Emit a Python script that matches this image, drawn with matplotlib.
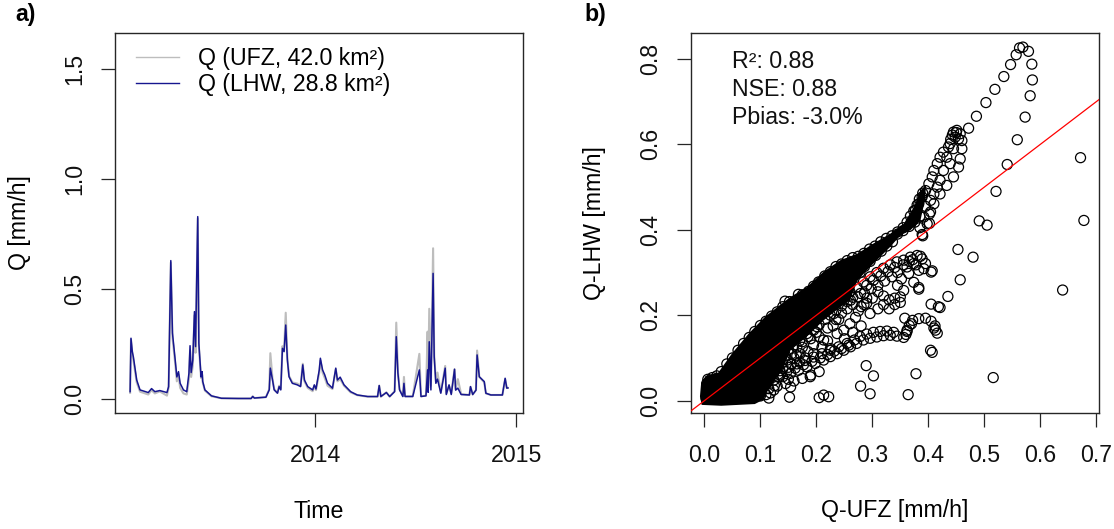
import matplotlib
matplotlib.use("Agg")
import matplotlib.pyplot as plt
import numpy as np
import pandas as pd

plt.rcParams["font.family"] = ["Liberation Sans", "DejaVu Sans"]

# ---------------- time series (panel a) ----------------
dates = [
    "2013-01-29", "2013-01-30T14:00", "2013-02-02", "2013-02-04", "2013-02-10", "2013-02-16",
    "2013-03-03", "2013-03-09", "2013-03-15", "2013-03-24", "2013-04-06", "2013-04-09",
    "2013-04-13", "2013-04-16", "2013-04-21", "2013-04-24", "2013-04-27", "2013-04-30",
    "2013-05-06", "2013-05-12", "2013-05-16", "2013-05-18", "2013-05-20", "2013-05-23",
    "2013-05-26", "2013-05-28", "2013-06-01", "2013-06-03", "2013-06-07", "2013-06-09",
    "2013-06-10", "2013-06-14", "2013-06-26", "2013-07-14", "2013-08-14", "2013-09-06",
    "2013-09-09", "2013-09-12", "2013-10-03", "2013-10-09", "2013-10-11", "2013-10-15",
    "2013-10-18", "2013-10-24", "2013-10-27", "2013-10-30", "2013-11-02", "2013-11-05",
    "2013-11-08", "2013-11-11", "2013-11-14", "2013-11-20", "2013-11-29", "2013-12-05",
    "2013-12-09", "2013-12-12", "2013-12-18", "2013-12-27", "2013-12-30", "2014-01-02",
    "2014-01-08", "2014-01-10", "2014-01-14", "2014-01-18", "2014-01-23", "2014-02-01",
    "2014-02-07", "2014-02-10", "2014-02-15", "2014-02-22", "2014-03-06", "2014-03-18",
    "2014-04-06", "2014-04-24", "2014-04-27", "2014-04-30", "2014-05-10", "2014-05-16",
    "2014-05-25", "2014-05-28", "2014-05-31", "2014-06-03", "2014-06-09", "2014-06-11",
    "2014-06-13", "2014-06-27", "2014-07-09", "2014-07-12", "2014-07-21", "2014-07-24",
    "2014-07-25", "2014-07-27", "2014-07-30", "2014-08-03", "2014-08-05", "2014-08-08",
    "2014-08-11", "2014-08-17", "2014-08-25", "2014-08-27", "2014-09-01", "2014-09-05",
    "2014-09-11", "2014-09-13", "2014-09-17", "2014-09-23", "2014-10-08", "2014-10-10",
    "2014-10-14", "2014-10-20", "2014-10-22", "2014-10-26", "2014-11-04", "2014-11-07",
    "2014-11-16", "2014-12-07", "2014-12-12", "2014-12-15", "2014-12-17",
]
q_lhw = [
    0.033, 0.276, 0.215, 0.190, 0.086, 0.041, 0.029, 0.047, 0.033, 0.038, 0.029, 0.056,
    0.629, 0.300, 0.177, 0.100, 0.124, 0.071, 0.041, 0.033, 0.117, 0.242, 0.120, 0.177,
    0.397, 0.238, 0.829, 0.253, 0.100, 0.124, 0.080, 0.041, 0.014, 0.003, 0.002, 0.002,
    0.011, 0.004, 0.008, 0.041, 0.140, 0.086, 0.041, 0.026, 0.056, 0.041, 0.230, 0.215,
    0.336, 0.177, 0.101, 0.071, 0.064, 0.056, 0.155, 0.086, 0.056, 0.041, 0.064, 0.045,
    0.132, 0.185, 0.132, 0.109, 0.071, 0.049, 0.140, 0.086, 0.099, 0.064, 0.033, 0.018,
    0.011, 0.011, 0.061, 0.011, 0.029, 0.011, 0.033, 0.283, 0.117, 0.041, 0.011, 0.071,
    0.011, 0.011, 0.132, 0.011, 0.014, 0.132, 0.030, 0.260, 0.041, 0.571, 0.192, 0.071,
    0.090, 0.026, 0.140, 0.020, 0.064, 0.020, 0.135, 0.040, 0.049, 0.020, 0.018, 0.056,
    0.020, 0.040, 0.200, 0.101, 0.079, 0.026, 0.018, 0.018, 0.094, 0.049, 0.050,
]
q_ufz = [
    0.028, 0.270, 0.205, 0.175, 0.075, 0.033, 0.020, 0.040, 0.025, 0.034, 0.015, 0.050,
    0.620, 0.280, 0.160, 0.080, 0.110, 0.050, 0.025, 0.020, 0.090, 0.220, 0.100, 0.150,
    0.380, 0.210, 0.820, 0.240, 0.095, 0.110, 0.075, 0.038, 0.012, 0.003, 0.002, 0.002,
    0.012, 0.004, 0.008, 0.045, 0.208, 0.090, 0.045, 0.028, 0.060, 0.045, 0.240, 0.220,
    0.392, 0.185, 0.105, 0.075, 0.070, 0.060, 0.160, 0.080, 0.050, 0.035, 0.060, 0.040,
    0.120, 0.175, 0.120, 0.095, 0.060, 0.045, 0.135, 0.080, 0.090, 0.060, 0.030, 0.017,
    0.010, 0.010, 0.060, 0.010, 0.030, 0.010, 0.035, 0.347, 0.125, 0.045, 0.012, 0.100,
    0.012, 0.012, 0.205, 0.012, 0.015, 0.306, 0.050, 0.410, 0.060, 0.685, 0.200, 0.080,
    0.120, 0.030, 0.150, 0.025, 0.060, 0.025, 0.135, 0.045, 0.090, 0.022, 0.018, 0.055,
    0.020, 0.040, 0.220, 0.100, 0.075, 0.025, 0.018, 0.018, 0.090, 0.050, 0.050,
]
legend_labels = ["Q (UFZ, 42.0 km²)", "Q (LHW, 28.8 km²)"]
year_ticks = ["2014-01-01", "2015-01-01"]
year_labels = ["2014", "2015"]
q_ticks = [0.0, 0.5, 1.0, 1.5]

# ---------------- scatter (panel b): Q-UFZ vs Q-LHW ----------------
# outline of the fully overplotted cloud near the origin
dense_x = [-0.008, -0.006, 0.002, 0.025, 0.049, 0.079, 0.108, 0.138, 0.154, 0.183, 0.213,
           0.243, 0.273, 0.302, 0.332, 0.356, 0.374, 0.386, 0.396, 0.394, 0.386, 0.368,
           0.350, 0.332, 0.308, 0.290, 0.273, 0.260, 0.243, 0.213, 0.183, 0.154, 0.138,
           0.114, 0.105, 0.090, 0.030, -0.005]
dense_y = [0.010, 0.040, 0.058, 0.066, 0.110, 0.157, 0.196, 0.227, 0.243, 0.266, 0.302,
           0.329, 0.344, 0.368, 0.391, 0.414, 0.453, 0.492, 0.505, 0.470, 0.422, 0.399,
           0.387, 0.360, 0.329, 0.305, 0.280, 0.235, 0.219, 0.188, 0.150, 0.118, 0.070,
           0.025, 0.002, -0.008, -0.012, -0.010]

edge_x = [0.004, 0.006, 0.014, 0.022, 0.030, 0.040, 0.050, 0.060, 0.070, 0.080, 0.090,
          0.100, 0.110, 0.120, 0.130, 0.140, 0.144, 0.152, 0.168, 0.175, 0.186, 0.195,
          0.204, 0.215, 0.225, 0.235, 0.245, 0.255, 0.265, 0.275, 0.285, 0.295, 0.305,
          0.315, 0.325, 0.335, 0.345, 0.355, 0.362, 0.368, 0.374, 0.380, 0.384, 0.390,
          0.385, 0.376, 0.366, 0.355, 0.345, 0.336, 0.326, 0.316, 0.306, 0.296, 0.286,
          0.278, 0.003, 0.010, 0.020, 0.030, 0.040, 0.050, 0.060, 0.070, 0.080, 0.090,
          0.100, 0.110, 0.118, 0.125, 0.132, 0.140, 0.148, 0.156, 0.165, 0.175, 0.185,
          0.195, 0.205, 0.215, 0.225, 0.235, 0.245, 0.255, 0.265]
edge_y = [0.040, 0.050, 0.054, 0.058, 0.068, 0.086, 0.100, 0.118, 0.134, 0.148, 0.162,
          0.176, 0.186, 0.198, 0.208, 0.220, 0.233, 0.232, 0.249, 0.248, 0.256, 0.268,
          0.278, 0.292, 0.302, 0.314, 0.320, 0.328, 0.335, 0.338, 0.345, 0.355, 0.362,
          0.372, 0.380, 0.386, 0.395, 0.405, 0.418, 0.432, 0.444, 0.458, 0.472, 0.486,
          0.432, 0.418, 0.408, 0.398, 0.390, 0.372, 0.362, 0.350, 0.340, 0.326, 0.314,
          0.300, 0.006, 0.004, 0.004, 0.004, 0.005, 0.006, 0.006, 0.007, 0.008, 0.009,
          0.011, 0.014, 0.018, 0.035, 0.055, 0.075, 0.095, 0.110, 0.125, 0.138, 0.150,
          0.165, 0.178, 0.190, 0.200, 0.212, 0.222, 0.232, 0.242]

upper_tail_x = [0.377, 0.383, 0.389, 0.395, 0.401, 0.407, 0.410, 0.416, 0.421, 0.427, 0.436,
                0.439, 0.445, 0.451, 0.457, 0.448, 0.454, 0.460, 0.445, 0.460, 0.457, 0.454,
                0.445, 0.433, 0.439, 0.427, 0.421, 0.416, 0.410, 0.404, 0.433, 0.421, 0.410,
                0.404, 0.398, 0.389, 0.395, 0.392, 0.385, 0.440, 0.443, 0.450]
upper_tail_y = [0.446, 0.461, 0.477, 0.492, 0.508, 0.524, 0.539, 0.555, 0.570, 0.582, 0.594,
                0.602, 0.629, 0.633, 0.625, 0.617, 0.613, 0.609, 0.590, 0.590, 0.566, 0.547,
                0.524, 0.570, 0.555, 0.539, 0.516, 0.500, 0.484, 0.469, 0.504, 0.484, 0.461,
                0.442, 0.414, 0.389, 0.455, 0.430, 0.405, 0.612, 0.622, 0.628]

peak_loop_x = [0.472, 0.486, 0.503, 0.519, 0.535, 0.547, 0.557, 0.563, 0.569, 0.579, 0.585,
               0.586, 0.582, 0.573, 0.559, 0.541, 0.521, 0.491, 0.505]
peak_loop_y = [0.638, 0.666, 0.698, 0.729, 0.759, 0.787, 0.810, 0.826, 0.828, 0.818, 0.788,
               0.751, 0.714, 0.664, 0.611, 0.553, 0.490, 0.421, 0.411]

middle_band_x = [0.356, 0.368, 0.380, 0.389, 0.395, 0.392, 0.383, 0.374, 0.362, 0.374, 0.383,
                 0.356, 0.350, 0.407, 0.344, 0.332, 0.320, 0.308, 0.296, 0.284, 0.272, 0.260,
                 0.345, 0.335, 0.322, 0.310, 0.298, 0.286, 0.274, 0.340, 0.330, 0.320, 0.310,
                 0.345, 0.352, 0.365, 0.300, 0.290, 0.280, 0.372, 0.386, 0.378, 0.366, 0.355,
                 0.340, 0.328, 0.315, 0.302, 0.290]
middle_band_y = [0.329, 0.336, 0.340, 0.332, 0.321, 0.309, 0.305, 0.321, 0.313, 0.277, 0.265,
                 0.258, 0.243, 0.304, 0.325, 0.318, 0.310, 0.300, 0.290, 0.278, 0.266, 0.255,
                 0.300, 0.290, 0.280, 0.270, 0.262, 0.252, 0.243, 0.240, 0.236, 0.245, 0.255,
                 0.270, 0.285, 0.298, 0.240, 0.228, 0.220, 0.330, 0.338, 0.318, 0.326, 0.318,
                 0.312, 0.302, 0.292, 0.282, 0.270]

lower_band_x = [0.064, 0.080, 0.094, 0.110, 0.124, 0.140, 0.154, 0.168, 0.183, 0.198, 0.213,
                0.225, 0.237, 0.249, 0.261, 0.272, 0.284, 0.296, 0.308, 0.320, 0.332, 0.344,
                0.356, 0.362, 0.366, 0.372, 0.383, 0.395, 0.405, 0.412, 0.413, 0.416, 0.410,
                0.090, 0.105, 0.120, 0.135, 0.150, 0.165, 0.180, 0.195, 0.210, 0.225, 0.240,
                0.255, 0.268, 0.100, 0.115, 0.130, 0.145, 0.160, 0.175, 0.190, 0.205,
                0.072, 0.087, 0.102, 0.117, 0.132, 0.147, 0.162, 0.177, 0.192, 0.207, 0.220,
                0.232, 0.245, 0.258, 0.278, 0.290, 0.302, 0.314, 0.326, 0.338]
lower_band_y = [0.017, 0.025, 0.032, 0.040, 0.048, 0.056, 0.064, 0.071, 0.079, 0.087, 0.095,
                0.103, 0.110, 0.118, 0.126, 0.134, 0.142, 0.146, 0.149, 0.152, 0.153, 0.151,
                0.148, 0.162, 0.176, 0.188, 0.192, 0.193, 0.186, 0.175, 0.165, 0.158, 0.170,
                0.045, 0.053, 0.062, 0.070, 0.078, 0.086, 0.094, 0.102, 0.110, 0.118, 0.126,
                0.134, 0.142, 0.022, 0.028, 0.034, 0.040, 0.046, 0.052, 0.060, 0.068,
                0.030, 0.038, 0.046, 0.054, 0.062, 0.068, 0.076, 0.084, 0.092, 0.100, 0.108,
                0.116, 0.122, 0.130, 0.150, 0.156, 0.160, 0.162, 0.163, 0.160]

spread_x = [0.249, 0.296, 0.225, 0.237, 0.213, 0.183, 0.171, 0.201, 0.231, 0.261, 0.279,
            0.130, 0.112, 0.082, 0.189, 0.154, 0.124, 0.094, 0.064, 0.036, 0.260, 0.270,
            0.220, 0.195, 0.205, 0.240, 0.185, 0.160, 0.120, 0.130, 0.140, 0.150, 0.160,
            0.170, 0.175, 0.190, 0.200, 0.210, 0.220, 0.230, 0.235, 0.245, 0.255, 0.265,
            0.275, 0.285, 0.290, 0.250, 0.265, 0.280, 0.310, 0.320, 0.330, 0.340, 0.350,
            0.145, 0.165, 0.180, 0.195, 0.155, 0.170, 0.135, 0.150]
spread_y = [0.165, 0.204, 0.122, 0.157, 0.142, 0.157, 0.110, 0.173, 0.204, 0.235, 0.251,
            0.095, 0.079, 0.064, 0.056, 0.032, 0.025, 0.013, 0.009, 0.005, 0.180, 0.195,
            0.170, 0.130, 0.150, 0.190, 0.115, 0.100, 0.080, 0.100, 0.090, 0.120, 0.130,
            0.140, 0.125, 0.145, 0.160, 0.125, 0.140, 0.175, 0.190, 0.205, 0.215, 0.225,
            0.210, 0.225, 0.240, 0.145, 0.160, 0.175, 0.215, 0.225, 0.215, 0.225, 0.230,
            0.105, 0.105, 0.100, 0.110, 0.085, 0.090, 0.060, 0.050]

outlier_x = [0.678, 0.672, 0.640, 0.516, 0.453, 0.480, 0.457, 0.435, 0.421, 0.407, 0.378,
             0.364, 0.296, 0.302, 0.289, 0.279, 0.205, 0.213, 0.222, 0.152, 0.115, 0.405,
             0.418, 0.383, 0.405, 0.402, 0.402, 0.390, 0.358, 0.404, 0.362, 0.360, 0.370]
outlier_y = [0.422, 0.569, 0.259, 0.054, 0.354, 0.336, 0.283, 0.244, 0.218, 0.113, 0.063,
             0.014, 0.016, 0.058, 0.082, 0.034, 0.007, 0.013, 0.009, 0.008, 0.006, 0.226,
             0.220, 0.261, 0.301, 0.415, 0.437, 0.386, 0.193, 0.118, 0.165, 0.155, 0.180]

stats_lines = ["R²: 0.88", "NSE: 0.88", "Pbias: -3.0%"]
x_ticks_b = [0.0, 0.1, 0.2, 0.3, 0.4, 0.5, 0.6, 0.7]
y_ticks_b = [0.0, 0.2, 0.4, 0.6, 0.8]

# ---------------- figure ----------------
W, H = 1114, 529
fig = plt.figure(figsize=(W / 100, H / 100), dpi=100)
FS = 16.7
BOX = "#262626"


def px_rect(x0, y0, x1, y1):
    return [x0 / W, 1 - y1 / H, (x1 - x0) / W, (y1 - y0) / H]


def style_axes(ax):
    for s in ax.spines.values():
        s.set_linewidth(1.0)
        s.set_color(BOX)
    ax.tick_params(direction="out", length=10, width=0.9, color=BOX,
                   labelsize=FS, labelcolor="#111111")
    ax.tick_params(axis="x", pad=12.5)
    ax.tick_params(axis="y", pad=10.5)
    for lab in ax.get_yticklabels():
        lab.set_rotation(90)
        lab.set_va("center")


# panel a
ax1 = fig.add_axes(px_rect(115, 33, 523, 413))
t = pd.to_datetime(dates, format="ISO8601")
ax1.plot(t, q_ufz, color="#bdbdbd", lw=1.5, label=legend_labels[0], zorder=2)
ax1.plot(t, q_lhw, color="#16168f", lw=1.1, label=legend_labels[1], zorder=3)
ax1.margins(x=0.04)
ax1.set_ylim(0 - 0.04 * 1.6, 1.6 + 0.04 * 1.6)
ax1.set_yticks(q_ticks)
ax1.set_yticklabels([f"{v:.1f}" for v in q_ticks])
ax1.set_xticks(pd.to_datetime(year_ticks))
ax1.set_xticklabels(year_labels)
style_axes(ax1)
leg = ax1.legend(loc="upper left", bbox_to_anchor=(135.5 / W, 1 - 47 / H),
                 bbox_transform=fig.transFigure, frameon=False, fontsize=FS,
                 borderpad=0, borderaxespad=0, handlelength=1.88, handletextpad=0.82,
                 labelspacing=0.14)
for h in leg.get_lines():
    h.set_linewidth(1.0)

# panel b
ax2 = fig.add_axes(px_rect(691, 33, 1099, 413))
groups = [
    (edge_x, edge_y), (upper_tail_x, upper_tail_y), (peak_loop_x, peak_loop_y),
    (middle_band_x, middle_band_y), (lower_band_x, lower_band_y),
    (spread_x, spread_y), (outlier_x, outlier_y),
]
ax2.fill(dense_x, dense_y, color="black", lw=0, zorder=2)
for gx, gy in groups:
    ax2.scatter(gx, gy, s=52, facecolors="none", edgecolors="black",
                linewidths=0.9, zorder=3)
all_x = np.concatenate([g[0] for g in groups])
all_y = np.concatenate([g[1] for g in groups])
xr = all_x.max() - all_x.min()
yr = all_y.max() - all_y.min()
ax2.set_xlim(all_x.min() - 0.04 * xr, all_x.max() + 0.04 * xr)
ax2.set_ylim(all_y.min() - 0.04 * yr, all_y.max() + 0.04 * yr)
ax2.axline((0, 0), slope=1, color="#ff0000", lw=0.9, zorder=4)
ax2.set_xticks(x_ticks_b)
ax2.set_xticklabels([f"{v:.1f}" for v in x_ticks_b])
ax2.set_yticks(y_ticks_b)
ax2.set_yticklabels([f"{v:.1f}" for v in y_ticks_b])
style_axes(ax2)

for i, line in enumerate(stats_lines):
    fig.text(732 / W, 1 - (62 + 28 * i) / H, line, fontsize=FS, ha="left",
             va="center", color="#111111")

# titles and panel letters
fig.text(26 / W, 1 - 15 / H, "a)", fontsize=FS, fontweight="bold", ha="center", va="center")
fig.text(595 / W, 1 - 15 / H, "b)", fontsize=FS, fontweight="bold", ha="center", va="center")
fig.text(20 / W, 1 - 223 / H, "Q [mm/h]", fontsize=FS, rotation=90, ha="center", va="center")
fig.text(319 / W, 1 - 511 / H, "Time", fontsize=FS, ha="center", va="center")
fig.text(595 / W, 1 - 223 / H, "Q-LHW [mm/h]", fontsize=FS, rotation=90, ha="center", va="center")
fig.text(895 / W, 1 - 511 / H, "Q-UFZ [mm/h]", fontsize=FS, ha="center", va="center")

fig.savefig("out.png", dpi=100, facecolor="white")
